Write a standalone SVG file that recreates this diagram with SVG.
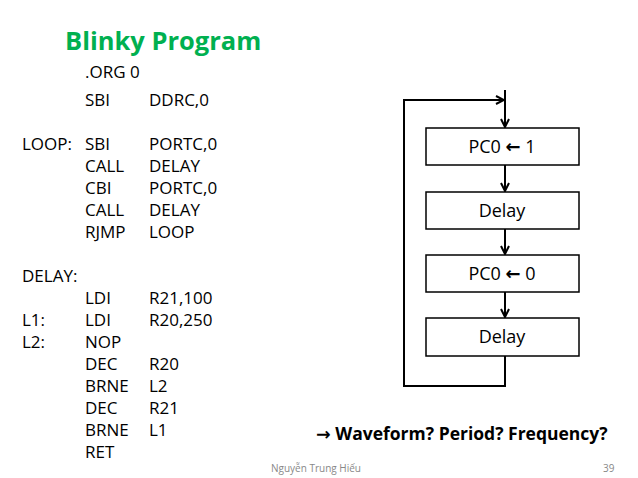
<svg xmlns="http://www.w3.org/2000/svg" width="638" height="478" viewBox="0 0 638 478">
<defs>
<style>
.c{font-family:"Open Sans","Liberation Sans",sans-serif;font-size:17px;fill:#000}
.b{fill:#fff;stroke:#000;stroke-width:1.5}
.l{fill:none;stroke:#000;stroke-width:2}
.t{font-family:"Open Sans","Liberation Sans",sans-serif;font-size:18px;text-anchor:middle}
.ar{font-family:"DejaVu Sans",sans-serif;font-weight:bold}
</style>
<marker id="a" viewBox="0 0 10 10" refX="9" refY="5" markerWidth="5" markerHeight="5" orient="auto"><path d="M1,1 L9,5 L1,9" fill="none" stroke="#000" stroke-width="2"/></marker>
</defs>
<rect width="638" height="478" fill="#fff"/>
<text x="65" y="50" font-family="Open Sans,Liberation Sans,sans-serif" font-size="25.5" font-weight="bold" fill="#00b050">Blinky Program</text>
<g class="c">
<text x="85" y="78">.ORG 0</text>
<text x="85" y="106">SBI</text><text x="149" y="106">DDRC,0</text>
<text x="22" y="150">LOOP:</text><text x="85" y="150">SBI</text><text x="149" y="150">PORTC,0</text>
<text x="85" y="172">CALL</text><text x="149" y="172">DELAY</text>
<text x="85" y="194">CBI</text><text x="149" y="194">PORTC,0</text>
<text x="85" y="216">CALL</text><text x="149" y="216">DELAY</text>
<text x="85" y="238">RJMP</text><text x="149" y="238">LOOP</text>
<text x="22" y="282">DELAY:</text>
<text x="85" y="304">LDI</text><text x="149" y="304">R21,100</text>
<text x="22" y="326">L1:</text><text x="85" y="326">LDI</text><text x="149" y="326">R20,250</text>
<text x="22" y="348">L2:</text><text x="85" y="348">NOP</text>
<text x="85" y="370">DEC</text><text x="149" y="370">R20</text>
<text x="85" y="392">BRNE</text><text x="149" y="392">L2</text>
<text x="85" y="414">DEC</text><text x="149" y="414">R21</text>
<text x="85" y="436">BRNE</text><text x="149" y="436">L1</text>
<text x="85" y="458">RET</text>
</g>
<g id="connectors">
<path class="l" d="M505,90 V127" marker-end="url(#a)"/>
<path class="l" d="M505,165 V191" marker-end="url(#a)"/>
<path class="l" d="M505,229 V254" marker-end="url(#a)"/>
<path class="l" d="M505,292 V317" marker-end="url(#a)"/>
<path class="l" d="M505,356 V386 H404 V100 H504" marker-end="url(#a)"/>
</g>
<g id="n1"><rect class="b" x="426" y="128" width="153" height="37"/><text class="t" x="502" y="153">PC0 <tspan class="ar">←</tspan> 1</text></g>
<g id="n2"><rect class="b" x="426" y="192" width="153" height="37"/><text class="t" x="502" y="217">Delay</text></g>
<g id="n3"><rect class="b" x="426" y="255" width="153" height="37"/><text class="t" x="502" y="280">PC0 <tspan class="ar">←</tspan> 0</text></g>
<g id="n4"><rect class="b" x="426" y="318" width="153" height="38"/><text class="t" x="502" y="343">Delay</text></g>
<text x="316" y="440" font-family="Open Sans,Liberation Sans,sans-serif" font-size="17.5" font-weight="bold"><tspan class="ar">→</tspan> Waveform? Period? Frequency?</text>
<text x="316" y="472" font-family="Open Sans,Liberation Sans,sans-serif" font-size="10" fill="#888" text-anchor="middle">Nguyễn Trung Hiếu</text>
<text x="603" y="472" font-family="Open Sans,Liberation Sans,sans-serif" font-size="10" fill="#888">39</text>
</svg>
